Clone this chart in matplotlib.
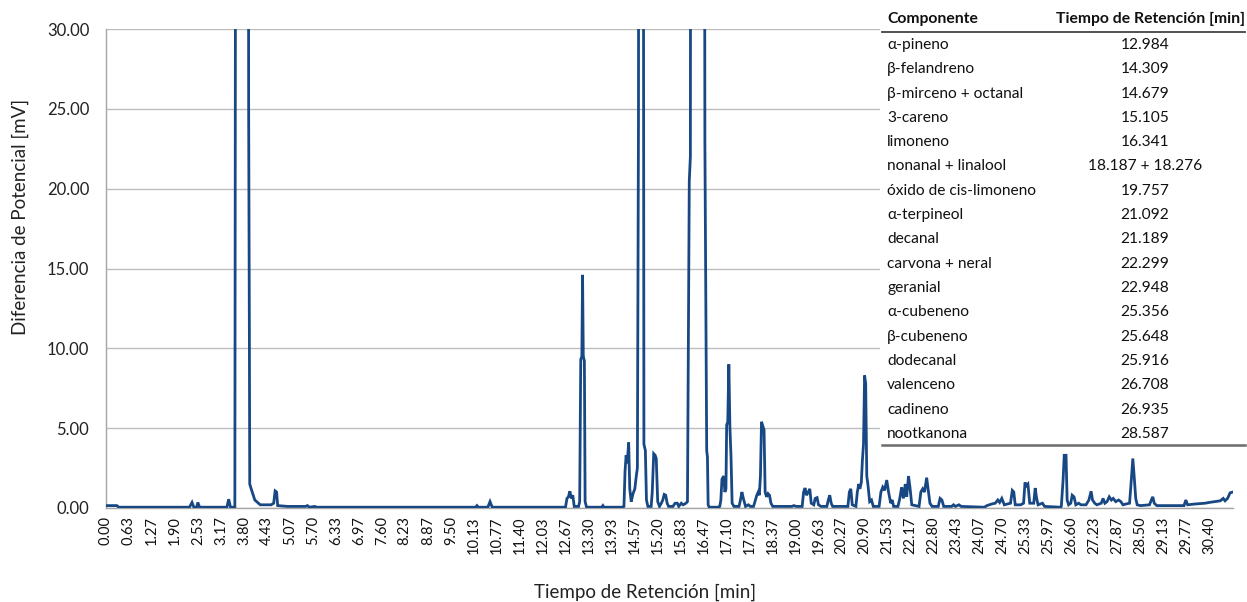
import matplotlib
matplotlib.use("Agg")
import matplotlib.pyplot as plt
from matplotlib.patches import Rectangle
from matplotlib.lines import Line2D

plt.rcParams['font.family'] = ['Lato', 'DejaVu Sans']

# ---- chromatogram trace (time [min], signal [mV]) ----
time_min = [
    0.00, 0.30, 0.35, 2.30, 2.37, 2.42, 2.50, 2.53, 2.58, 3.33, 3.38, 3.43, 3.55,
    3.59, 3.91, 3.93, 3.95, 3.96, 4.00, 4.10, 4.25, 4.55, 4.62, 4.66, 4.70, 4.73,
    5.00, 5.50, 5.55, 5.60, 5.75, 5.80, 5.85,
    10.18, 10.22, 10.26, 10.52, 10.58, 10.64, 12.62,
    12.66, 12.70, 12.74, 12.78, 12.82, 12.86, 12.90, 13.02, 13.05, 13.08, 13.11,
    13.13, 13.15, 13.18, 13.20, 13.24, 13.66, 13.69, 13.72, 14.25,
    14.27, 14.30, 14.33, 14.36, 14.40, 14.43, 14.47, 14.52, 14.57, 14.61, 14.64,
    14.67, 14.69, 14.79, 14.82, 14.86, 14.89, 14.93,
    15.02, 15.05, 15.09, 15.13, 15.16, 15.20, 15.25, 15.30, 15.34, 15.38, 15.42,
    15.46, 15.50, 15.62, 15.68, 15.74, 15.78, 15.85, 15.90, 15.98,
    16.02, 16.07, 16.10, 16.12, 16.47, 16.50, 16.55, 16.57, 16.59, 16.62,
    16.88, 16.91, 16.94, 16.97, 17.02, 17.05, 17.08, 17.10, 17.13, 17.16, 17.19,
    17.22, 17.25, 17.30, 17.44, 17.48, 17.52, 17.56, 17.62, 17.70, 17.75,
    17.84, 17.88, 17.93, 17.97, 18.00, 18.03, 18.06, 18.10, 18.13, 18.16, 18.20,
    18.24, 18.28, 18.32, 18.37, 18.90, 18.95, 19.02,
    19.18, 19.22, 19.26, 19.30, 19.35, 19.39, 19.43, 19.50, 19.54, 19.59, 19.63,
    19.70, 19.86, 19.90, 19.94, 19.98, 20.02, 20.44, 20.48, 20.52, 20.56,
    20.66, 20.70, 20.74, 20.77, 20.81, 20.84, 20.87, 20.90, 20.93, 20.96, 20.99,
    21.04, 21.09, 21.14,
    21.30, 21.35, 21.40, 21.45, 21.51, 21.56, 21.62, 21.66, 21.70,
    21.82, 21.87, 21.92, 21.97, 22.02, 22.06, 22.11, 22.15, 22.20,
    22.40, 22.45, 22.50, 22.55, 22.61, 22.65, 22.70, 22.76,
    22.93, 22.98, 23.03, 23.08, 23.30, 23.35, 23.40, 23.50, 23.56,
    24.20, 24.27, 24.40, 24.50, 24.57, 24.62, 24.68, 24.75, 24.92, 24.97, 25.01,
    25.05, 25.20, 25.28, 25.32, 25.36, 25.40, 25.45, 25.56, 25.60, 25.64, 25.68,
    25.80, 25.86, 26.30,
    26.32, 26.37, 26.40, 26.45, 26.48, 26.52, 26.58, 26.62, 26.67, 26.72, 26.80,
    26.86, 27.00, 27.08, 27.14, 27.18, 27.24, 27.30,
    27.42, 27.47, 27.52, 27.58, 27.64, 27.70, 27.75, 27.82, 27.90, 27.96, 28.02,
    28.10, 28.20, 28.25, 28.29, 28.33, 28.37, 28.41, 28.50,
    28.75, 28.80, 28.84, 28.88, 28.95, 29.70, 29.75, 29.80, 30.00, 30.28, 30.40,
    30.55, 30.70, 30.78, 30.83, 30.90, 30.97, 31.05,
]
signal_mv = [
    0.15, 0.15, 0.05, 0.05, 0.35, 0.05, 0.05, 0.35, 0.05, 0.05, 0.55, 0.05, 0.05,
    80.0, 80.0, 25.0, 11.0, 1.5, 1.2, 0.5, 0.2, 0.2, 0.3, 1.07, 1.0, 0.15,
    0.1, 0.1, 0.15, 0.05, 0.1, 0.05, 0.05,
    0.05, 0.15, 0.05, 0.05, 0.4, 0.05, 0.05,
    0.05, 0.6, 0.7, 1.05, 0.6, 0.8, 0.1, 0.1, 0.4, 9.3, 9.5,
    14.6, 9.5, 9.2, 0.4, 0.05, 0.05, 0.15, 0.05, 0.05,
    0.1, 2.3, 3.3, 2.8, 4.1, 1.2, 0.4, 0.9, 1.2, 2.0, 2.5,
    24.0, 80.0, 80.0, 4.0, 3.6, 0.5, 0.1,
    0.1, 1.0, 3.4, 3.3, 3.1, 0.4, 0.1, 0.3, 0.5, 0.85, 0.8,
    0.3, 0.1, 0.1, 0.3, 0.3, 0.1, 0.3, 0.2, 0.3,
    0.4, 20.5, 22.0, 80.0, 80.0, 23.0, 3.6, 3.2, 0.2, 0.05,
    0.05, 0.1, 0.5, 1.8, 2.0, 1.0, 1.2, 5.2, 5.4, 9.0, 5.0,
    3.2, 0.3, 0.1, 0.1, 0.5, 1.0, 0.6, 0.1, 0.2, 0.1,
    0.1, 0.4, 0.8, 1.0, 0.8, 2.0, 5.4, 5.1, 4.9, 1.0, 0.7,
    0.9, 0.8, 0.3, 0.1, 0.1, 0.15, 0.1,
    0.1, 1.0, 1.25, 0.8, 1.0, 1.2, 0.3, 0.2, 0.6, 0.65, 0.2,
    0.1, 0.1, 0.5, 0.8, 0.3, 0.1, 0.1, 1.0, 1.2, 0.2,
    0.1, 1.0, 1.5, 1.2, 1.6, 3.0, 4.0, 8.3, 7.8, 2.0, 1.5,
    0.4, 0.5, 0.1,
    0.1, 1.0, 1.3, 1.1, 1.75, 1.0, 0.3, 0.5, 0.1,
    0.1, 0.6, 1.3, 0.6, 1.5, 0.7, 2.0, 1.3, 0.2,
    0.1, 1.0, 1.2, 1.0, 1.9, 1.2, 0.3, 0.1,
    0.1, 0.6, 0.5, 0.1, 0.1, 0.2, 0.1, 0.2, 0.1,
    0.05, 0.15, 0.25, 0.3, 0.5, 0.35, 0.6, 0.2, 0.3, 1.1, 1.0,
    0.2, 0.2, 0.3, 1.6, 1.4, 1.5, 0.3, 0.3, 1.25, 0.6, 0.2,
    0.3, 0.1, 0.05,
    0.1, 1.8, 3.3, 3.3, 0.5, 0.2, 0.3, 0.8, 0.7, 0.2, 0.3,
    0.2, 0.2, 0.5, 1.05, 0.5, 0.3, 0.2,
    0.3, 0.6, 0.3, 0.4, 0.7, 0.5, 0.6, 0.4, 0.5, 0.4, 0.2,
    0.25, 0.3, 1.8, 3.1, 1.9, 0.6, 0.2, 0.15,
    0.2, 0.5, 0.7, 0.3, 0.15, 0.15, 0.5, 0.2, 0.25, 0.3, 0.35,
    0.4, 0.45, 0.6, 0.45, 0.6, 0.95, 1.0,
]

x_tick_labels = [
    "0.00", "0.63", "1.27", "1.90", "2.53", "3.17", "3.80", "4.43", "5.07", "5.70",
    "6.33", "6.97", "7.60", "8.23", "8.87", "9.50", "10.13", "10.77", "11.40",
    "12.03", "12.67", "13.30", "13.93", "14.57", "15.20", "15.83", "16.47",
    "17.10", "17.73", "18.37", "19.00", "19.63", "20.27", "20.90", "21.53",
    "22.17", "22.80", "23.43", "24.07", "24.70", "25.33", "25.97", "26.60",
    "27.23", "27.87", "28.50", "29.13", "29.77", "30.40",
]
y_ticks = [0, 5, 10, 15, 20, 25, 30]

componentes = [
    "α-pineno", "β-felandreno", "β-mirceno + octanal", "3-careno", "limoneno",
    "nonanal + linalool", "óxido de cis-limoneno", "α-terpineol", "decanal",
    "carvona + neral", "geranial", "α-cubeneno", "β-cubeneno", "dodecanal",
    "valenceno", "cadineno", "nootkanona",
]
tiempos = [
    "12.984", "14.309", "14.679", "15.105", "16.341", "18.187 + 18.276",
    "19.757", "21.092", "21.189", "22.299", "22.948", "25.356", "25.648",
    "25.916", "26.708", "26.935", "28.587",
]

W, H = 1247, 602
fig = plt.figure(figsize=(W / 100, H / 100), dpi=100)
ax = fig.add_axes([106 / W, 1 - 508 / H, (1233 - 106) / W, (508 - 29) / H])

ax.plot(time_min, signal_mv, color="#184884", lw=2.0, solid_joinstyle="miter", zorder=3)

ax.set_xlim(0, 31.05)
ax.set_ylim(0, 30)
ax.set_yticks(y_ticks)
ax.set_yticklabels([f"{v:.2f}" for v in y_ticks], fontsize=12, color="#222222")
ax.set_xticks([float(s) for s in x_tick_labels])
ax.set_xticklabels(x_tick_labels, rotation=90, fontsize=10.5, color="#111111")
ax.tick_params(axis="both", length=0)
ax.tick_params(axis="x", pad=6)
ax.tick_params(axis="y", pad=12)
ax.grid(axis="y", color="#bdbdbd", lw=1.0, zorder=0)
ax.set_axisbelow(True)
for s in ["top", "right"]:
    ax.spines[s].set_visible(False)
for s in ["left", "bottom"]:
    ax.spines[s].set_color("#a6a6a6")
    ax.spines[s].set_linewidth(1.0)

fig.text(20 / W, 1 - 217 / H, "Diferencia de Potencial [mV]", rotation=90,
         ha="center", va="center", fontsize=13.5, color="#222222")
fig.text(645 / W, 1 - 592 / H, "Tiempo de Retención [min]",
         ha="center", va="center", fontsize=13.5, color="#222222")

# ---- table overlay ----
fig.add_artist(Rectangle((880 / W, 1 - 448 / H), (W - 880) / W, 448 / H,
                         transform=fig.transFigure, facecolor="white",
                         edgecolor="none", zorder=5))
fig.text(887 / W, 1 - 19 / H, "Componente", ha="left", va="center",
         fontsize=11.3, fontweight="bold", color="#111111", zorder=6)
fig.text(1245 / W, 1 - 19 / H, "Tiempo de Retención [min]", ha="right",
         va="center", fontsize=11.3, fontweight="bold", color="#111111", zorder=6)
fig.add_artist(Line2D([882 / W, 1245 / W], [1 - 32 / H, 1 - 32 / H],
                      transform=fig.transFigure, color="#444444", lw=1.3, zorder=6))
row0, step = 45, 24.3
for i, (c, t) in enumerate(zip(componentes, tiempos)):
    yy = 1 - (row0 + i * step) / H
    fig.text(887 / W, yy, c, ha="left", va="center", fontsize=11.2,
             color="#111111", zorder=6)
    fig.text(1145 / W, yy, t, ha="center", va="center", fontsize=11.2,
             color="#111111", zorder=6)
fig.add_artist(Line2D([882 / W, 1245 / W], [1 - 445 / H, 1 - 445 / H],
                      transform=fig.transFigure, color="#6b6b6b", lw=1.8, zorder=6))

fig.savefig("out.png", dpi=100)
